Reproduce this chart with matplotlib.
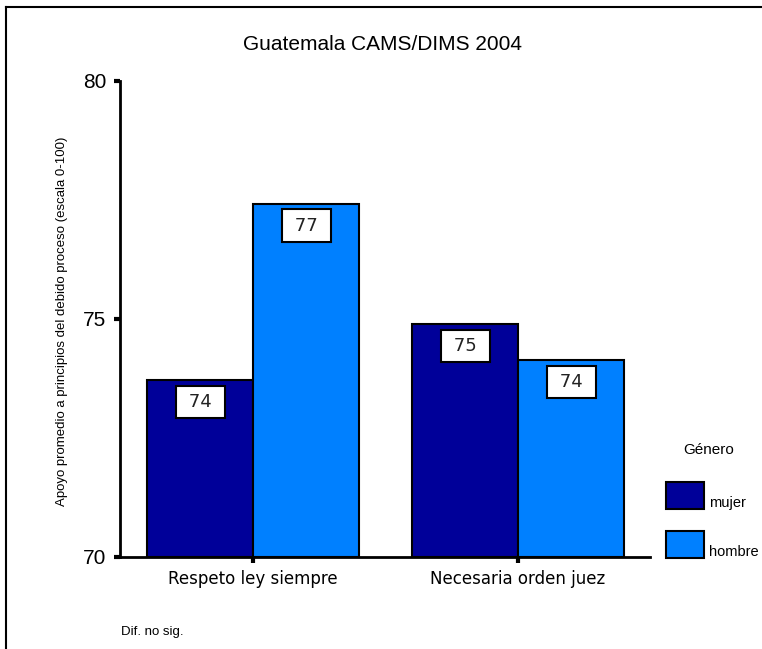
import matplotlib.pyplot as plt
import numpy as np
from matplotlib.lines import Line2D
from matplotlib.patches import Rectangle

# data
categorias = ['Respeto ley siempre', 'Necesaria orden juez']
generos = ['mujer', 'hombre']
mujer = [73.72, 74.89]
hombre = [77.42, 74.14]
colores = ['#000099', '#0080ff']

fig = plt.figure(figsize=(7.62, 6.49), dpi=100)
ax = fig.add_axes([120/762, 92/649, 530/762, 476/649])

x = np.arange(len(categorias))
w = 0.4
for i, (vals, col) in enumerate(zip([mujer, hombre], colores)):
    pos = x + (i - 0.5) * w
    ax.bar(pos, np.array(vals) - 70, width=w, bottom=70, color=col,
           edgecolor='black', linewidth=1.5)
    for p, v in zip(pos, vals):
        ax.text(p, v - 0.46, f' {v:.0f} ', ha='center', va='center',
                fontsize=13, family='DejaVu Sans', color='#222222',
                bbox=dict(boxstyle='square,pad=0.4', fc='white', ec='black', lw=1.5))

ax.set_xlim(-0.502, 1.498)
ax.set_ylim(70, 80)
ax.set_yticks([70, 75, 80])
ax.set_yticklabels(['70', '75', '80'], family='Liberation Sans', fontsize=15)
ax.set_xticks(x)
ax.set_xticklabels(categorias, family='DejaVu Sans', fontsize=12)
ax.tick_params(axis='y', length=4, width=3, pad=6)
ax.tick_params(axis='x', length=4, width=3, pad=5)
for s in ['top', 'right']:
    ax.spines[s].set_visible(False)
for s in ['left', 'bottom']:
    ax.spines[s].set_linewidth(2)

fig.text(62/762, 1 - 321/649, 'Apoyo promedio a principios del debido proceso (escala 0-100)',
         rotation=90, ha='center', va='center', family='Liberation Sans', fontsize=9.5)
fig.text(383/762, 1 - 44/649, 'Guatemala CAMS/DIMS 2004', ha='center', va='center',
         family='Liberation Sans', fontsize=15)
fig.text(121/762, 1 - 632/649, 'Dif. no sig.', ha='left', va='center',
         family='Liberation Sans', fontsize=9.5)

# legend drawn by hand
fig.text(709/762, 1 - 450/649, 'Género', ha='center', va='center',
         family='Liberation Sans', fontsize=11)
for j, (g, col) in enumerate(zip(generos, colores)):
    top = 482 + j * 49
    fig.add_artist(Rectangle((666/762, 1 - (top + 27)/649), 38/762, 27/649,
                             transform=fig.transFigure, fc=col, ec='black', lw=1.5))
    fig.text(709/762, 1 - (top + 21)/649, g, ha='left', va='center',
             family='Liberation Sans', fontsize=10.5)

# outer frame (only top and left edges visible)
fig.add_artist(Line2D([6/762, 6/762], [0, 1 - 7/649], transform=fig.transFigure,
                      color='black', lw=1.5))
fig.add_artist(Line2D([6/762, 1], [1 - 7/649, 1 - 7/649], transform=fig.transFigure,
                      color='black', lw=1.5))

fig.savefig('out.png', dpi=100)
